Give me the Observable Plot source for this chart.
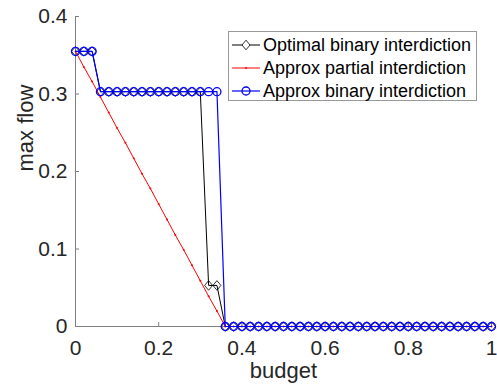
<!DOCTYPE html>
<html>
<head>
<meta charset="utf-8">
<script src="https://cdn.jsdelivr.net/npm/d3@7"></script>
<script src="https://cdn.jsdelivr.net/npm/@observablehq/plot@0.6"></script>
<style>
  body { margin: 0; background: #fff; font-family: "Liberation Sans", Arial, sans-serif; }
  #wrap { position: relative; width: 497px; height: 389px; }
  #legend { position: absolute; left: 228px; top: 31px; width: 249px; height: 70px; border: 1px solid #999; background: #fff; box-sizing: border-box; }
  .row { position: absolute; left: 0; height: 22px; display: flex; align-items: center; font-size: 18px; color: #000; white-space: nowrap; }
  .row svg { margin-left: 3px; margin-right: 3px; }
</style>
</head>
<body>
<div id="wrap"></div>
<script>
const budget = [0,0.02,0.04,0.06,0.08,0.10,0.12,0.14,0.16,0.18,0.20,0.22,0.24,0.26,0.28,0.30,0.32,0.34,0.36,0.38,0.40,0.42,0.44,0.46,0.48,0.50,0.52,0.54,0.56,0.58,0.60,0.62,0.64,0.66,0.68,0.70,0.72,0.74,0.76,0.78,0.80,0.82,0.84,0.86,0.88,0.90,0.92,0.94,0.96,0.98,1.00];
const optimalBinary = [0.355,0.355,0.355,0.303,0.303,0.303,0.303,0.303,0.303,0.303,0.303,0.303,0.303,0.303,0.303,0.303,0.053,0.053,0,0,0,0,0,0,0,0,0,0,0,0,0,0,0,0,0,0,0,0,0,0,0,0,0,0,0,0,0,0,0,0,0];
const approxPartial = [0.355,0.335,0.316,0.296,0.276,0.256,0.237,0.217,0.197,0.178,0.158,0.138,0.118,0.099,0.079,0.059,0.039,0.020,0,0,0,0,0,0,0,0,0,0,0,0,0,0,0,0,0,0,0,0,0,0,0,0,0,0,0,0,0,0,0,0,0];
const approxBinary = [0.355,0.355,0.355,0.303,0.303,0.303,0.303,0.303,0.303,0.303,0.303,0.303,0.303,0.303,0.303,0.303,0.303,0.303,0,0,0,0,0,0,0,0,0,0,0,0,0,0,0,0,0,0,0,0,0,0,0,0,0,0,0,0,0,0,0,0,0];
const xTicks = [0,0.2,0.4,0.6,0.8,1];
const yTicks = [0,0.1,0.2,0.3,0.4];
const seriesNames = ["Optimal binary interdiction","Approx partial interdiction","Approx binary interdiction"];

const rows = (vals) => budget.map((b, i) => ({x: b, y: vals[i]}));
const opt = rows(optimalBinary), part = rows(approxPartial), bin = rows(approxBinary);
const axisColor = "#7f7f7f", textColor = "#262626";

// MATLAB-like diamond marker (half-width 4, half-height 4.8)
const matDiamond = {
  draw(context) {
    context.moveTo(0, -4.8);
    context.lineTo(4, 0);
    context.lineTo(0, 4.8);
    context.lineTo(-4, 0);
    context.closePath();
  }
};

const chart = Plot.plot({
  width: 497, height: 389,
  marginLeft: 75, marginRight: 6, marginTop: 16, marginBottom: 63,
  style: {fontFamily: '"Liberation Sans", Arial, sans-serif', background: "#fff"},
  x: {domain: [0, 1], label: null},
  y: {domain: [0, 0.4], label: null},
  marks: [
    Plot.axisX({ticks: xTicks, tickFormat: d => String(d), tickSize: -4, tickPadding: 18, fontSize: 21, color: textColor, stroke: axisColor, label: null}),
    Plot.axisY({ticks: yTicks, tickFormat: d => String(d), tickSize: -4, tickPadding: 12, fontSize: 21, color: textColor, stroke: axisColor, label: null}),
    Plot.ruleY([0], {stroke: axisColor}),
    Plot.ruleX([0], {stroke: axisColor}),
    Plot.line(opt, {x: "x", y: "y", stroke: "#000", strokeWidth: 1}),
    Plot.dot(opt, {x: "x", y: "y", symbol: matDiamond, stroke: "#000", fill: "none", strokeWidth: 0.8}),
    Plot.line(part, {x: "x", y: "y", stroke: "#ff0000", strokeWidth: 1}),
    Plot.dot(part, {x: "x", y: "y", r: 1, fill: "#ff0000", stroke: "none"}),
    Plot.line(bin, {x: "x", y: "y", stroke: "#0000ff", strokeWidth: 1.2}),
    Plot.dot(bin, {x: "x", y: "y", r: 4, stroke: "#0000ff", fill: "none", strokeWidth: 1.3}),
    Plot.text(["budget"], {frameAnchor: "bottom", dy: 51, fontSize: 22, fill: textColor}),
    Plot.text(["max flow"], {frameAnchor: "left", dx: -50, rotate: -90, fontSize: 22, fill: textColor})
  ]
});

const wrap = document.getElementById("wrap");
wrap.appendChild(chart);

const legend = document.createElement("div");
legend.id = "legend";
const samples = [
  `<line x1="0" y1="11" x2="28" y2="11" stroke="#000" stroke-width="1"/><path d="M14,6.2 L18,11 L14,15.8 L10,11 Z" fill="#fff" stroke="#000" stroke-width="0.8"/>`,
  `<line x1="0" y1="11" x2="28" y2="11" stroke="#ff0000" stroke-width="1"/><circle cx="14" cy="11" r="1" fill="#ff0000"/>`,
  `<line x1="0" y1="11" x2="28" y2="11" stroke="#0000ff" stroke-width="1.2"/><circle cx="14" cy="11" r="4" fill="none" stroke="#0000ff" stroke-width="1.3"/>`
];
const tops = [2, 25, 48];
seriesNames.forEach((name, i) => {
  const r = document.createElement("div");
  r.className = "row";
  r.style.top = tops[i] + "px";
  r.innerHTML = `<svg width="28" height="22">${samples[i]}</svg><span>${name}</span>`;
  legend.appendChild(r);
});
wrap.appendChild(legend);
</script>
</body>
</html>
